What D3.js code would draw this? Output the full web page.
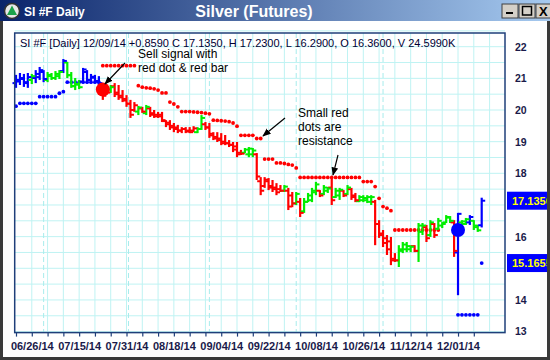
<!DOCTYPE html>
<html><head><meta charset="utf-8">
<script src="https://cdn.jsdelivr.net/npm/d3@7"></script>
<style>html,body{margin:0;padding:0;background:#fff;overflow:hidden}svg{display:block;font-family:Arial,"Liberation Sans",sans-serif}</style>
</head><body><svg id="c" width="550" height="360"></svg>
<script>
// ---- data ----
const highs=[21.11,21.17,21.14,21.17,21.14,21.26,21.36,21.26,21.20,21.17,
21.23,21.26,21.61,21.52,21.20,21.01,20.95,21.33,21.26,21.14,
21.11,21.07,20.85,20.76,20.79,20.85,20.79,20.63,20.47,20.32,
20.25,20.13,20.10,20.16,20.10,20.00,19.94,19.94,19.68,19.68,
19.59,19.53,19.46,19.46,19.46,19.49,19.46,19.84,19.62,19.59,
19.30,19.30,19.27,19.21,19.05,18.99,18.99,18.74,18.80,18.83,
18.80,18.64,17.88,17.88,17.85,17.79,17.69,17.63,17.63,17.54,
17.41,17.41,17.22,17.22,17.38,17.54,17.73,17.47,17.63,17.57,
17.85,17.54,17.54,17.47,17.63,17.54,17.38,17.31,17.31,17.31,
17.31,17.16,16.52,16.21,16.05,15.99,15.48,15.73,15.83,15.83,
15.73,15.73,16.43,16.43,16.37,16.52,16.43,16.59,16.46,16.68,
16.65,16.52,16.75,16.52,16.59,16.68,16.52,16.37,17.23];
const lows=[20.70,20.79,20.73,20.70,20.82,20.85,20.95,20.88,20.88,20.95,
20.95,20.98,21.17,21.01,20.70,20.63,20.66,20.88,20.85,20.88,
20.85,20.79,20.32,20.51,20.54,20.41,20.32,20.25,20.10,19.75,
19.94,19.84,19.91,19.84,19.78,19.75,19.75,19.62,19.46,19.37,
19.30,19.27,19.27,19.27,19.27,19.30,19.27,19.37,19.37,19.12,
19.05,18.99,18.89,18.89,18.83,18.67,18.51,18.58,18.64,18.51,
18.51,17.79,17.31,17.54,17.47,17.41,17.31,17.41,17.41,16.84,
16.93,17.00,16.62,16.75,17.09,17.09,17.31,17.25,17.31,17.38,
17.00,17.22,17.16,17.25,17.31,17.16,17.09,17.09,17.09,17.06,
17.00,15.73,15.96,15.67,15.42,15.10,15.20,15.04,15.48,15.51,
15.51,15.51,15.20,16.05,15.83,15.99,15.96,16.21,16.27,16.43,
16.43,15.36,14.15,16.37,16.37,16.37,16.21,16.15,16.29];
const opens=[20.85,20.90,20.98,20.85,20.95,21.01,21.04,21.20,20.95,21.07,
21.01,21.07,21.23,21.50,21.10,20.75,20.80,20.90,21.20,20.95,
21.02,20.90,20.80,20.70,20.65,20.75,20.55,20.45,20.35,20.20,
20.00,19.95,20.05,19.90,20.05,19.90,19.85,19.85,19.65,19.60,
19.50,19.45,19.35,19.40,19.35,19.35,19.30,19.40,19.55,19.45,
19.25,19.15,19.10,19.00,18.95,18.90,18.85,18.65,18.65,18.60,
18.60,18.60,17.75,17.60,17.75,17.60,17.55,17.50,17.45,17.45,
17.30,17.05,17.10,16.80,17.10,17.15,17.40,17.45,17.35,17.45,
17.55,17.25,17.30,17.45,17.35,17.50,17.30,17.12,17.15,17.15,
17.10,17.10,16.40,16.10,15.95,15.85,15.30,15.25,15.55,15.60,
15.60,15.70,15.55,16.15,16.30,16.05,16.40,16.25,16.35,16.45,
16.60,16.45,15.50,16.45,16.40,16.45,16.50,16.35,16.36];
const closes=[20.95,21.01,20.88,21.04,21.07,21.14,21.26,20.98,21.11,21.01,
21.14,21.20,21.55,21.10,20.76,20.82,20.72,21.28,20.95,21.05,
20.92,20.85,20.45,20.55,20.72,20.50,20.40,20.30,20.20,19.85,
20.15,20.08,19.95,20.10,19.85,19.80,19.80,19.68,19.55,19.45,
19.40,19.35,19.40,19.32,19.30,19.42,19.40,19.75,19.45,19.20,
19.10,19.05,18.95,18.95,18.90,18.75,18.60,18.62,18.75,18.78,
18.72,17.90,17.45,17.80,17.55,17.50,17.40,17.45,17.58,16.95,
17.05,17.35,16.75,17.10,17.30,17.45,17.65,17.30,17.55,17.52,
17.15,17.45,17.48,17.30,17.55,17.25,17.15,17.25,17.22,17.25,
17.25,16.40,16.05,15.80,15.60,15.25,15.25,15.60,15.75,15.70,
15.68,15.55,16.35,16.35,15.95,16.45,16.05,16.50,16.40,16.62,
16.50,15.55,16.72,16.48,16.55,16.62,16.30,16.20,17.135];
const trend=("bbbbgbbbgg"+"ggbggggbbb"+"bbrrgrrrrr"+"rgrgrrrrrr"+"rrrrrrggrr"+
"rrrrrrrrgg"+"grrrrrrrgr"+"rgrggggrgg"+"rggrgrrggg"+"grrrrrrggg"+"grggrgrggg"+"grbggbggb").split("");
const supportDots=[[0,20.12],[1,20.21],[2,20.21],[3,20.21],[4,20.21],[5,20.21],
[6,20.42],[7,20.42],[8,20.42],[9,20.42],[10,20.42],[11,20.53],[12,20.58],
[13,20.88],[14,20.88],[15,20.88],[16,20.88],[17,20.88],[18,20.88],[19,20.88],[20,20.88],[21,20.88],
[112,13.53],[113,13.53],[114,13.53],[115,13.53],[116,13.53],[117,13.53],[118,15.1655]];
const resistanceDots=[[22,21.40],[23,21.40],[24,21.40],[25,21.40],[26,21.40],[27,21.40],[28,21.40],[29,21.40],[30,21.40],
[31,20.77],[32,20.72],[33,20.70],[34,20.69],[35,20.67],[36,20.63],[37,20.54],[38,20.54],
[39,20.25],[40,20.19],[41,20.10],
[42,19.95],[43,19.95],[44,19.95],[45,19.94],[46,19.93],[47,19.92],[48,19.90],[49,19.88],
[50,19.68],[51,19.67],[52,19.66],[53,19.65],[54,19.63],[55,19.59],[56,19.49],
[57,19.20],[58,19.20],[59,19.20],[60,19.20],[61,19.10],[62,19.10],
[63,18.45],[64,18.45],[65,18.45],[66,18.33],[67,18.33],[68,18.31],[69,18.28],[70,18.26],[71,18.17],
[72,17.87],[73,17.87],[74,17.87],[75,17.87],[76,17.87],[77,17.87],[78,17.87],[79,17.87],
[80,17.87],[81,17.87],[82,17.87],[83,17.87],[84,17.87],[85,17.87],[86,17.87],[87,17.87],
[88,17.74],[89,17.74],[90,17.74],[91,17.58],[92,17.21],[93,16.95],[94,16.90],[95,16.82],
[96,16.21],[97,16.21],[98,16.21],[99,16.21],[100,16.21],[101,16.21],[102,16.21],[103,16.21],
[104,16.21],[105,16.21],[106,16.21],[107,16.21]];
const signals=[{i:22,v:20.65,type:"sell"},{i:112,v:16.21,type:"buy"}];
const tickIdx=d3.range(0,117,4);
const labelIdx=[4,16,28,40,52,64,76,88,100,112];
const labelText=["06/26/14","07/15/14","07/31/14","08/18/14","09/04/14","09/22/14","10/08/14","10/26/14","11/12/14","12/01/14"];
const monthBreaks=[7,28.5,49,71,93];
const yTicks=[13,14,15,16,18,19,20,21,22];
const yGrid=d3.range(13,22.51,0.5);
const headerText="SI #F [Daily] 12/09/14 +0.8590 C 17.1350, H 17.2300, L 16.2900, O 16.3600, V 24.5990K";
const priceTags=[{v:17.135,t:"17.1350"},{v:15.1655,t:"15.1655"}];

// ---- layout ----
const svg=d3.select("#c");
const P={l:14.7,r:505,t:33,b:332.6};
const x=d3.scaleLinear().domain([0,118]).range([16,481.7]);
const y=d3.scaleLinear().domain([13,22]).range([331.6,46.7]);
const col={b:"#0000ff",g:"#00ee00",r:"#ff0000"};

svg.append("rect").attr("width",550).attr("height",360).attr("fill","#fff");
const defs=svg.append("defs");
const lg=defs.append("linearGradient").attr("id","tb");
lg.append("stop").attr("offset","0").attr("stop-color","#0a246a");
lg.append("stop").attr("offset","1").attr("stop-color","#a6caf0");
defs.append("marker").attr("id","ah").attr("viewBox","0 0 10 10").attr("refX",9).attr("refY",5)
 .attr("markerWidth",7).attr("markerHeight",7).attr("orient","auto")
 .append("path").attr("d","M0,1 L10,5 L0,9 Z").attr("fill","#000");
svg.append("rect").attr("x",0).attr("y",0).attr("width",550).attr("height",21).attr("fill","url(#tb)");
svg.append("circle").attr("cx",12).attr("cy",11).attr("r",7.5).attr("fill","#e8e8e8").attr("stroke","#333").attr("stroke-width",1.5);
svg.append("path").attr("d","M12,5.5 L17,15 L7,15 Z").attr("fill","#1aa34a");
svg.append("text").attr("x",24).attr("y",16).attr("fill","#fff").attr("font-weight","bold").attr("font-size",12).text("SI #F Daily");
svg.append("text").attr("x",254).attr("y",17).attr("text-anchor","middle").attr("fill","#fff").attr("font-weight","bold").attr("font-size",16).text("Silver (Futures)");
[502,519,536].forEach(bx=>{
  svg.append("rect").attr("x",bx).attr("y",4).attr("width",16).attr("height",14).attr("fill","#d4d0c8").attr("stroke","#404040").attr("stroke-width",1);
});
svg.append("rect").attr("x",506).attr("y",12).attr("width",7).attr("height",2).attr("fill","#000");
svg.append("rect").attr("x",522.5).attr("y",6.5).attr("width",9).attr("height",8.5).attr("fill","none").attr("stroke","#000").attr("stroke-width",1.5);
svg.append("text").attr("x",539).attr("y",16).attr("font-weight","bold").attr("font-size",13).attr("fill","#000").text("X");
svg.append("rect").attr("x",0).attr("y",21).attr("width",3).attr("height",339).attr("fill","#3a3a3a");
svg.append("rect").attr("x",0).attr("y",357).attr("width",550).attr("height",3).attr("fill","#3a3a3a");

// grid
const g=svg.append("g");
g.selectAll(".hg").data(yGrid).join("line").attr("x1",P.l).attr("x2",P.r)
 .attr("y1",d=>y(d)).attr("y2",d=>y(d)).attr("stroke","#bff3f3").attr("stroke-width",1);
g.selectAll(".vg").data(d3.range(4,121,4)).join("line").attr("x1",d=>x(d)).attr("x2",d=>x(d))
 .attr("y1",P.t).attr("y2",P.b).attr("stroke","#bff3f3").attr("stroke-width",1);
g.selectAll(".mb").data(monthBreaks).join("line").attr("x1",d=>x(d)).attr("x2",d=>x(d))
 .attr("y1",P.t).attr("y2",P.b).attr("stroke","#a8ecec").attr("stroke-width",1).attr("stroke-dasharray","5,3");

svg.append("text").attr("x",20).attr("y",46.5).attr("font-size",11).attr("fill","#000033").text(headerText);

// dots
const dotG=svg.append("g");
dotG.selectAll(".rd").data(resistanceDots).join("circle").attr("cx",d=>x(d[0])).attr("cy",d=>y(d[1])).attr("r",1.9).attr("fill",col.r);
dotG.selectAll(".sd").data(supportDots).join("circle").attr("cx",d=>x(d[0])).attr("cy",d=>y(d[1])).attr("r",1.9).attr("fill",col.b);

// bars
const idx=d3.range(highs.length);
const bg=svg.append("g");
bg.selectAll(".hl").data(idx).join("line").attr("x1",i=>x(i)).attr("x2",i=>x(i))
 .attr("y1",i=>y(highs[i])).attr("y2",i=>y(lows[i])).attr("stroke",i=>col[trend[i]]).attr("stroke-width",2.2);
bg.selectAll(".op").data(idx).join("line").attr("x1",i=>x(i)-3.5).attr("x2",i=>x(i))
 .attr("y1",i=>y(opens[i])).attr("y2",i=>y(opens[i])).attr("stroke",i=>col[trend[i]]).attr("stroke-width",2);
bg.selectAll(".cl").data(idx).join("line").attr("x1",i=>x(i)).attr("x2",i=>x(i)+3.5)
 .attr("y1",i=>y(closes[i])).attr("y2",i=>y(closes[i])).attr("stroke",i=>col[trend[i]]).attr("stroke-width",2);

svg.selectAll(".sig").data(signals).join("circle").attr("cx",d=>x(d.i)).attr("cy",d=>y(d.v)).attr("r",7)
 .attr("fill",d=>d.type==="sell"?col.r:col.b);

function lines(arr,x0,y0,dy){arr.forEach((t,k)=>svg.append("text").attr("x",x0).attr("y",y0+k*dy).attr("font-size",12).attr("fill","#000").text(t));}
lines(["Sell signal with","red dot & red bar"],138,58,13.8);
lines(["Small red","dots are","resistance"],298,117,13.8);
function arrow(x1,y1,x2,y2){svg.append("line").attr("x1",x1).attr("y1",y1).attr("x2",x2).attr("y2",y2).attr("stroke","#000").attr("stroke-width",1.2).attr("marker-end","url(#ah)");}
arrow(125,63,105,84);
arrow(285,118,263,136);
arrow(338,155,333,175);

svg.append("rect").attr("x",P.l).attr("y",P.t).attr("width",P.r-P.l).attr("height",P.b-P.t)
 .attr("fill","none").attr("stroke","#1f3f7a").attr("stroke-width",1.5);

const xa=d3.axisBottom(x).tickValues(tickIdx).tickSize(4)
 .tickFormat(i=>{const k=labelIdx.indexOf(i);return k>=0?labelText[k]:"";});
const xg=svg.append("g").attr("transform",`translate(0,${P.b})`).call(xa);
xg.select(".domain").remove();
xg.selectAll("line").attr("stroke","#1f3f7a").attr("stroke-width",1.2);
xg.selectAll("text").attr("font-size",11).attr("font-weight","bold").attr("fill","#1a1a4a").attr("font-family","Arial,'Liberation Sans',sans-serif").attr("dy","0.95em");

const ya=d3.axisRight(y).tickValues(yTicks).tickSize(0).tickFormat(d3.format("d"));
const yg=svg.append("g").attr("transform",`translate(${P.r+10},0)`).call(ya);
yg.select(".domain").remove();
yg.selectAll("text").attr("x",0).attr("font-size",10.5).attr("font-weight","bold").attr("fill","#1a1a4a").attr("font-family","Arial,'Liberation Sans',sans-serif");

priceTags.forEach(p=>{
  svg.append("rect").attr("x",507).attr("y",y(p.v)-9).attr("width",43).attr("height",18).attr("fill","#0000ff");
  svg.append("text").attr("x",512).attr("y",y(p.v)+4).attr("font-size",11).attr("font-weight","bold").attr("fill","#ffff00").text(p.t);
});
svg.append("rect").attr("x",547).attr("y",21).attr("width",3).attr("height",339).attr("fill","#3a3a3a");
</script></body></html>
